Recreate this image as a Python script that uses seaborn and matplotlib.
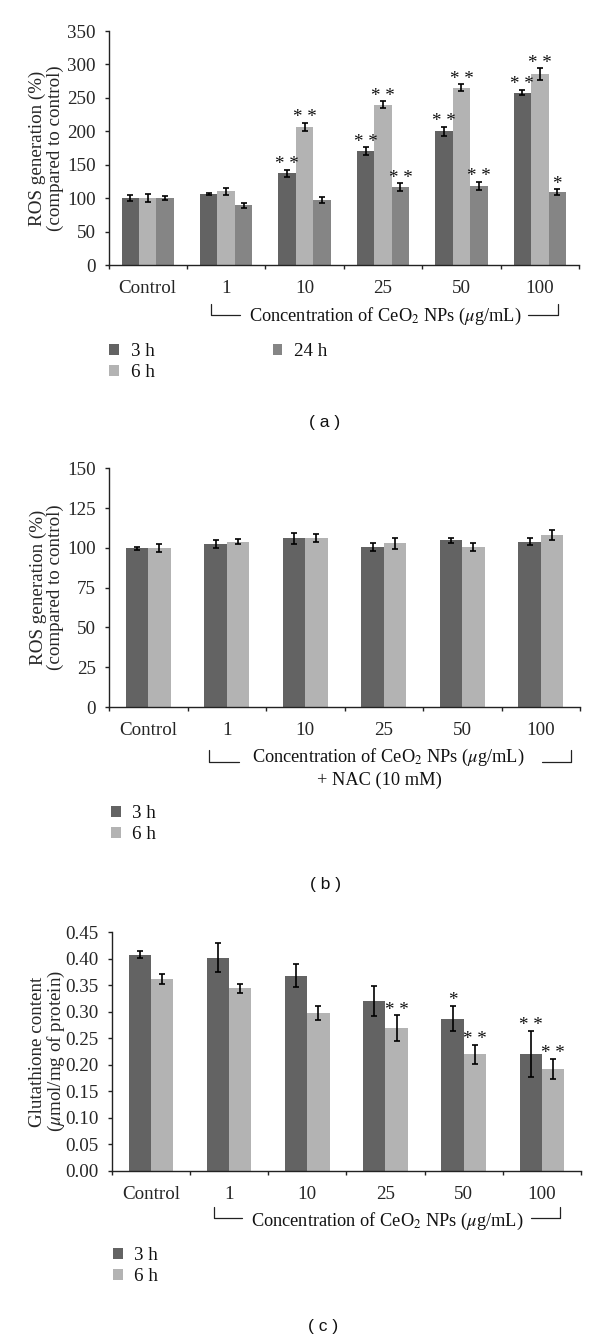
import matplotlib
matplotlib.use("Agg")
import matplotlib.pyplot as plt
import numpy as np
import pandas as pd
import seaborn as sns
from matplotlib.lines import Line2D

# 数据
categories = ["Control", "1", "10", "25", "50", "100"]

# (a) ROS generation
a_3h = [100, 106, 137, 170, 200, 258]
a_3h_err = [4, 1.5, 5, 6, 7, 4]
a_6h = [100, 110, 207, 240, 265, 285]
a_6h_err = [6, 5, 6, 5, 5, 9]
a_24h = [100, 89, 97, 116, 118, 109]
a_24h_err = [3, 4, 5, 6, 6, 4]
a_3h_sig = ["", "", "* *", "* *", "* *", "* *"]
a_6h_sig = ["", "", "* *", "* *", "* *", "* *"]
a_24h_sig = ["", "", "", "* *", "* *", "*"]

# (b) ROS generation + NAC
b_3h = [99.7, 102.6, 106, 100.7, 104.8, 104]
b_3h_err = [1, 2.5, 3.5, 2.5, 1.5, 2.5]
b_6h = [100, 104, 106, 102.8, 100.8, 108]
b_6h_err = [2.5, 1.8, 2.5, 3.5, 2.5, 3]

# (c) Glutathione
c_3h = [0.408, 0.402, 0.368, 0.320, 0.287, 0.220]
c_3h_err = [0.007, 0.027, 0.022, 0.028, 0.024, 0.044]
c_6h = [0.362, 0.344, 0.298, 0.269, 0.220, 0.192]
c_6h_err = [0.010, 0.009, 0.013, 0.024, 0.018, 0.019]
c_3h_sig = ["", "", "", "", "*", "* *"]
c_6h_sig = ["", "", "", "* *", "* *", "* *"]

colors = {"3 h": "#636363", "6 h": "#b3b3b3", "24 h": "#858585"}
FS = 13.7
FS_NOTE = 13.2  # 括号内说明文字

sns.set_style("ticks")
plt.rcParams["font.family"] = ["Liberation Serif", "DejaVu Serif"]
plt.rcParams["mathtext.fontset"] = "stix"
plt.rcParams["font.size"] = FS
plt.rcParams["text.color"] = "#111111"

W, H = 600, 1342
fig = plt.figure(figsize=(W / 100, H / 100), dpi=100)


def fx(x):
    return x / W


def fy(y):
    return 1 - y / H


def draw_panel(rect, series, errs, sigs, width, ylim, yticks, fmt, ylabel):
    ax = fig.add_axes(rect)
    levels = list(series.keys())
    df = pd.DataFrame({
        "conc": categories * len(levels),
        "value": sum([series[k] for k in levels], []),
        "time": sum([[k] * len(categories) for k in levels], []),
    })
    sns.barplot(data=df, x="conc", y="value", hue="time", order=categories, hue_order=levels,
                palette=colors, errorbar=None, width=width, gap=0, saturation=1,
                linewidth=0, legend=False, ax=ax)
    bars = list(ax.containers)
    for cont, k in zip(bars, levels):
        xs = [p.get_x() + p.get_width() / 2 for p in cont]
        hs = [p.get_height() for p in cont]
        ax.errorbar(xs, hs, yerr=errs[k], fmt="none", ecolor="black", elinewidth=1.2,
                    capsize=2.2, capthick=1.2, zorder=3)
        if k in sigs:
            for x, h, e, s in zip(xs, hs, errs[k], sigs[k]):
                if s:
                    ax.annotate(s, (x, h + e), xytext=(0, 0.5), textcoords="offset points",
                                ha="center", va="baseline", fontsize=FS)
    ax.set_xlim(-0.5, 5.5)
    ax.set_ylim(*ylim)
    ax.set_yticks(yticks)
    ax.set_yticklabels([fmt.format(v) for v in yticks])
    ax.set_xticks(range(len(categories)))
    ax.set_xticklabels(categories)
    ax.set_xticks(np.arange(-0.5, 6, 1), minor=True)
    ax.tick_params(axis="x", which="major", length=0, pad=11, labelsize=FS)
    ax.tick_params(axis="x", which="minor", length=3, width=1, direction="out", color="#222222")
    ax.tick_params(axis="y", length=3, width=1, pad=6.3, labelsize=FS, color="#222222")
    ax.set_xlabel("")
    ax.set_ylabel(ylabel, fontsize=FS, linespacing=1.0)
    ax.yaxis.set_label_coords(-0.095, 0.5)
    sns.despine(ax=ax)
    for sp in ["left", "bottom"]:
        ax.spines[sp].set_linewidth(1.0)
        ax.spines[sp].set_color("#222222")
    return ax, bars, levels


def bracket(xl, xr, y_line, y_top, xl_end, xr_start):
    kw = dict(color="#222222", linewidth=0.9, transform=fig.transFigure)
    fig.add_artist(Line2D([fx(xl), fx(xl), fx(xl_end)], [fy(y_top), fy(y_line), fy(y_line)], **kw))
    fig.add_artist(Line2D([fx(xr_start), fx(xr), fx(xr)], [fy(y_line), fy(y_line), fy(y_top)], **kw))


def legend(ax, bars, levels, x, y, ncol=1):
    ax.legend(bars, levels, loc="upper left", bbox_to_anchor=(fx(x), fy(y)),
              bbox_transform=fig.transFigure, ncol=ncol, frameon=False, fontsize=FS,
              handlelength=0.52, handleheight=0.52, handletextpad=0.62, labelspacing=0.2,
              columnspacing=6.2, borderpad=0, borderaxespad=0)


conc_text = "Concentration of CeO$_2$ NPs ($\\mu$g/mL)"

# (a)
ax_a, bars_a, lv_a = draw_panel(
    [fx(108.5), fy(265), fx(579) - fx(108.5), (265 - 31) / H],
    {"3 h": a_3h, "6 h": a_6h, "24 h": a_24h},
    {"3 h": a_3h_err, "6 h": a_6h_err, "24 h": a_24h_err},
    {"3 h": a_3h_sig, "6 h": a_6h_sig, "24 h": a_24h_sig},
    0.667, (0, 350), list(range(0, 351, 50)), "{:d}",
    "ROS generation (%)\n(compared to control)")
bracket(211, 557.7, 315, 304.3, 240, 528)
fig.text(fx(385), fy(316.7), conc_text, ha="center", va="center", fontsize=FS_NOTE)
legend(ax_a, bars_a, lv_a, 109, 343, ncol=2)
fig.text(fx(325), fy(423), "( a )", ha="center", va="center", fontsize=12.5,
         family=["Liberation Sans", "DejaVu Sans"])

# (b)
ax_b, bars_b, lv_b = draw_panel(
    [fx(109), fy(707), fx(580) - fx(109), (707 - 468.3) / H],
    {"3 h": b_3h, "6 h": b_6h},
    {"3 h": b_3h_err, "6 h": b_6h_err},
    {},
    0.57, (0, 150), list(range(0, 151, 25)), "{:d}",
    "ROS generation (%)\n(compared to control)")
bracket(209, 571, 762.3, 750, 239, 542)
fig.text(fx(388), fy(757), conc_text, ha="center", va="center", fontsize=FS_NOTE)
fig.text(fx(379), fy(780), "+ NAC (10 mM)", ha="center", va="center", fontsize=FS_NOTE)
legend(ax_b, bars_b, lv_b, 110.7, 805)
fig.text(fx(325), fy(885), "( b )", ha="center", va="center", fontsize=12.5,
         family=["Liberation Sans", "DejaVu Sans"])

# (c)
ax_c, bars_c, lv_c = draw_panel(
    [fx(111.7), fy(1170.5), fx(581) - fx(111.7), (1170.5 - 932.3) / H],
    {"3 h": c_3h, "6 h": c_6h},
    {"3 h": c_3h_err, "6 h": c_6h_err},
    {"3 h": c_3h_sig, "6 h": c_6h_sig},
    0.57, (0, 0.45), [round(v, 2) for v in np.arange(0, 0.451, 0.05)], "{:.2f}",
    "Glutathione content\n($\\mu$mol/mg of protein)")
bracket(214, 559.6, 1218, 1207, 241.7, 531)
fig.text(fx(387), fy(1221.7), conc_text, ha="center", va="center", fontsize=FS_NOTE)
legend(ax_c, bars_c, lv_c, 112.7, 1247)
fig.text(fx(323), fy(1327), "( c )", ha="center", va="center", fontsize=12.5,
         family=["Liberation Sans", "DejaVu Sans"])

fig.savefig("out.png", dpi=100)
